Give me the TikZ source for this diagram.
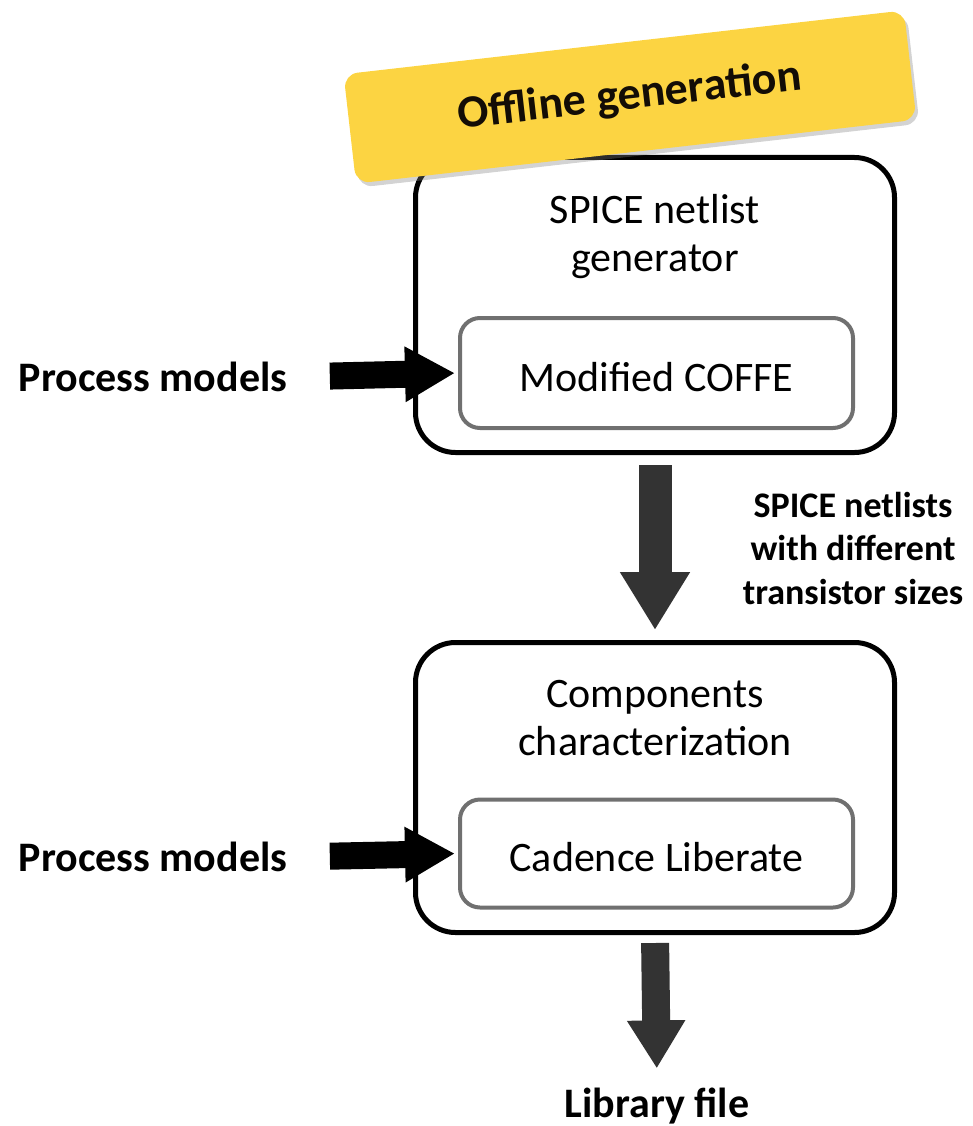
\documentclass[tikz,border=0pt]{standalone}
\usepackage{fontspec}
\setmainfont{Carlito}
\usetikzlibrary{arrows.meta,shadows}
\definecolor{bannerfill}{HTML}{FCD442}
\definecolor{flowgray}{HTML}{333333}
\definecolor{innergray}{HTML}{707070}

\begin{document}
\begin{tikzpicture}[x=1pt, y=-1pt,
	outerbox/.style={draw, line width=5pt, rounded corners=40pt, minimum width=479pt, minimum height=295pt},
	innerbox/.style={draw=innergray, line width=4pt, rounded corners=20pt, minimum width=393pt, minimum height=110pt},
	boxtext/.style={align=center, font=\fontsize{42}{48}\selectfont},
	sidetext/.style={font=\fontsize{42}{48}\selectfont\bfseries},
	inarrow/.style={line width=27pt, -{Triangle[width=52pt, length=50pt]}},
	flowarrow/.style={draw=flowgray, fill=flowgray, line width=33pt, -{Triangle[width=66pt, length=58pt]}}]
	\useasboundingbox (0,0) rectangle (973,1126);
	% upper stage
	\node[outerbox] (gen) at (655,305) {};
	\node[boxtext] (gentxt) at (655,237) {SPICE netlist\\generator};
	\node[innerbox] (cof) at (656.5,373) {};
	\node[boxtext] (coftxt) at (656.5,377) {Modified COFFE};
	\node[sidetext] (pm1) at (153,377) {Process models};
	\node[bannerfill, fill=bannerfill, rounded corners=14pt, rotate=6.5, minimum width=564pt, minimum height=110pt,
		drop shadow={opacity=0.35, shadow xshift=3pt, shadow yshift=-4pt}] (banner) at (630,97)
		{\color{black!90!brown}\fontsize{46}{50}\selectfont\bfseries Offline generation};
	% lower stage
	\node[outerbox, minimum height=290pt] (char) at (655,787.5) {};
	\node[boxtext] (chartxt) at (655,718) {Components\\characterization};
	\node[innerbox, minimum height=108pt] (lib) at (656.5,853.5) {};
	\node[boxtext] (libtxt) at (656.5,857) {Cadence Liberate};
	\node[sidetext] (pm2) at (153,857) {Process models};
	\node[sidetext] (libfile) at (657,1106) {Library file};
	\node[align=center, font=\fontsize{36}{43.5}\selectfont\bfseries] (nets) at (853,548)
		{SPICE netlists\\with different\\transistor sizes};
	% connectors
	\draw[inarrow, shorten <=39pt, shorten >=3pt] (pm1.east) -- (cof.west);
	\draw[inarrow, shorten <=39pt, shorten >=3pt] (pm2.east) -- (lib.west);
	\draw[flowarrow, shorten <=10pt, shorten >=10pt] (gen.south) -- (char.north);
	\draw[flowarrow, line width=28pt, -{Triangle[width=55pt, length=48pt]}, shorten <=8pt, shorten >=16pt] (char.south) -- (libfile.north);
\end{tikzpicture}
\end{document}
